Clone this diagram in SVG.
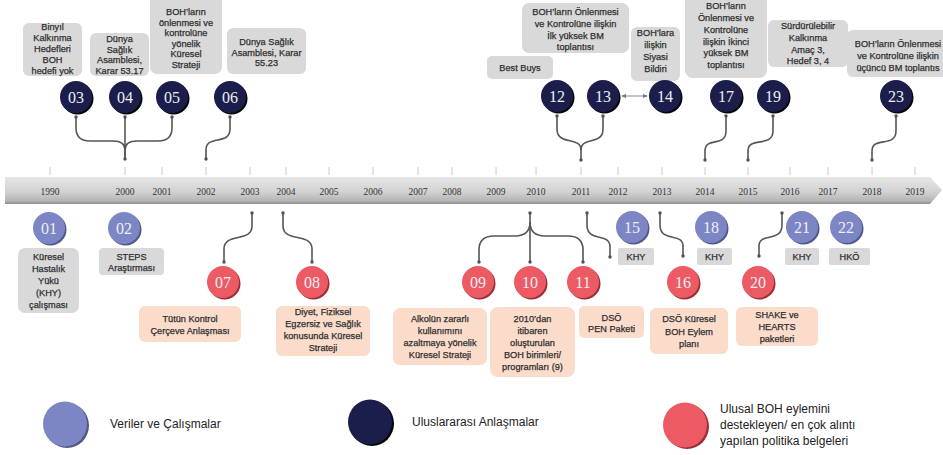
<svg xmlns="http://www.w3.org/2000/svg" width="943" height="455" viewBox="0 0 943 455">
  <defs>
    <linearGradient id="barGrad" x1="0" y1="0" x2="0" y2="1">
      <stop offset="0" stop-color="#e6e6e6"/>
      <stop offset="0.55" stop-color="#d2d2d2"/>
      <stop offset="0.88" stop-color="#b4b4b4"/>
      <stop offset="1" stop-color="#8e8e8e"/>
    </linearGradient>
    <marker id="tip" viewBox="0 0 6 6" refX="5" refY="3" markerWidth="5" markerHeight="5" orient="auto-start-reverse">
      <path d="M0,0.5 L6,3 L0,5.5 Z" fill="#777"/>
    </marker>
    <style>
      .bg { fill:#d9d9d9; }
      .bp { fill:#fbdccb; }
      .t { font-family:"Liberation Sans", Arial, sans-serif; font-size:9.2px; fill:#2e2e2e; stroke:#2e2e2e; stroke-width:0.25; text-anchor:middle; }
      .num { font-family:"Liberation Serif", "Times New Roman", serif; font-size:16px; fill:#eeeef4; text-anchor:middle; }
      .yr { font-family:"Liberation Serif", "Times New Roman", serif; font-size:9.5px; fill:#333; text-anchor:middle; }
      .lg { font-family:"Liberation Sans", Arial, sans-serif; font-size:12px; fill:#222; }
      .navy { fill:#1b1e4b; }
      .navy-sh { fill:#050505; }
      .blue { fill:#7c86c5; }
      .blue-sh { fill:#525885; }
      .red { fill:#ec5a64; }
      .red-sh { fill:#9a2f37; }
      .conn { fill:none; stroke:#565656; stroke-width:1.6; }
      .dot { fill:#505050; }
      .tick { stroke:#cccccc; stroke-width:1; }
      .dbl { stroke:#888; stroke-width:1; marker-start:url(#tip); marker-end:url(#tip); }
    </style>
  </defs>

  <rect width="943" height="455" fill="#ffffff"/>

  <!-- timeline bar with year ticks -->
  <g id="timeline">
    <g>
      <line class="tick" x1="50" y1="167" x2="50" y2="175"/>
      <line class="tick" x1="125" y1="167" x2="125" y2="175"/>
      <line class="tick" x1="162" y1="167" x2="162" y2="175"/>
      <line class="tick" x1="206" y1="167" x2="206" y2="175"/>
      <line class="tick" x1="250" y1="167" x2="250" y2="175"/>
      <line class="tick" x1="286" y1="167" x2="286" y2="175"/>
      <line class="tick" x1="329" y1="167" x2="329" y2="175"/>
      <line class="tick" x1="373" y1="167" x2="373" y2="175"/>
      <line class="tick" x1="418" y1="167" x2="418" y2="175"/>
      <line class="tick" x1="452" y1="167" x2="452" y2="175"/>
      <line class="tick" x1="496" y1="167" x2="496" y2="175"/>
      <line class="tick" x1="536" y1="167" x2="536" y2="175"/>
      <line class="tick" x1="581" y1="167" x2="581" y2="175"/>
      <line class="tick" x1="618" y1="167" x2="618" y2="175"/>
      <line class="tick" x1="662" y1="167" x2="662" y2="175"/>
      <line class="tick" x1="705" y1="167" x2="705" y2="175"/>
      <line class="tick" x1="748" y1="167" x2="748" y2="175"/>
      <line class="tick" x1="790" y1="167" x2="790" y2="175"/>
      <line class="tick" x1="828" y1="167" x2="828" y2="175"/>
      <line class="tick" x1="872" y1="167" x2="872" y2="175"/>
      <line class="tick" x1="915" y1="167" x2="915" y2="175"/>
    </g>
    <path d="M5,177 H930 L942,190 L930,204 H5 Z" fill="url(#barGrad)"/>
    <g>
      <text class="yr" x="50" y="195">1990</text>
      <text class="yr" x="125" y="195">2000</text>
      <text class="yr" x="162" y="195">2001</text>
      <text class="yr" x="206" y="195">2002</text>
      <text class="yr" x="250" y="195">2003</text>
      <text class="yr" x="286" y="195">2004</text>
      <text class="yr" x="329" y="195">2005</text>
      <text class="yr" x="373" y="195">2006</text>
      <text class="yr" x="418" y="195">2007</text>
      <text class="yr" x="452" y="195">2008</text>
      <text class="yr" x="496" y="195">2009</text>
      <text class="yr" x="536" y="195">2010</text>
      <text class="yr" x="581" y="195">2011</text>
      <text class="yr" x="618" y="195">2012</text>
      <text class="yr" x="662" y="195">2013</text>
      <text class="yr" x="705" y="195">2014</text>
      <text class="yr" x="748" y="195">2015</text>
      <text class="yr" x="790" y="195">2016</text>
      <text class="yr" x="828" y="195">2017</text>
      <text class="yr" x="872" y="195">2018</text>
      <text class="yr" x="915" y="195">2019</text>
    </g>
  </g>

  <!-- connectors between milestones and the timeline -->
  <g id="connectors">
    <!-- above the bar -->
    <path class="conn" d="M76,117 V128 Q76,141 90,141 H113 Q125,141 125,150 V159"/>
    <path class="conn" d="M172,117 V128 Q172,141 158,141 H137 Q125,141 125,150"/>
    <path class="conn" d="M125,117 V159"/>
    <path class="conn" d="M230,117 V129 C230,146 206,134 206,150 V159"/>
    <path class="conn" d="M557,116 V129 C557,146 581,136 581,150 V160"/>
    <path class="conn" d="M603,116 V129 C603,146 581,136 581,150"/>
    <path class="conn" d="M726,116 V131 C726,148 705,136 705,151 V160"/>
    <path class="conn" d="M773,116 V131 C773,148 748,136 748,151 V160"/>
    <path class="conn" d="M896,116 V131 C896,148 872,136 872,151 V160"/>
    <line class="dbl" x1="622" y1="96" x2="647" y2="96"/>
    <!-- below the bar -->
    <path class="conn" d="M252,213 V226 C252,243 224,232 224,249 V262"/>
    <path class="conn" d="M283,213 V226 C283,243 312,232 312,249 V262"/>
    <path class="conn" d="M530,213 V262"/>
    <path class="conn" d="M530,222 Q530,236 515,236 H494 Q479,236 479,250 V262"/>
    <path class="conn" d="M530,222 Q530,236 545,236 H568 Q583,236 583,250 V262"/>
    <path class="conn" d="M587,213 V225 C587,243 610,232 610,247 V257"/>
    <path class="conn" d="M660,213 V225 C660,243 683,232 683,246 V256"/>
    <path class="conn" d="M782,213 V225 C782,243 759,232 759,246 V256"/>
    <!-- end dots -->
    <g class="dot">
      <circle cx="76" cy="117" r="1.7"/><circle cx="125" cy="117" r="1.7"/><circle cx="172" cy="117" r="1.7"/>
      <circle cx="125" cy="159" r="1.7"/><circle cx="230" cy="117" r="1.7"/><circle cx="206" cy="159" r="1.7"/>
      <circle cx="557" cy="116" r="1.7"/><circle cx="603" cy="116" r="1.7"/><circle cx="581" cy="160" r="1.7"/>
      <circle cx="726" cy="116" r="1.7"/><circle cx="705" cy="160" r="1.7"/>
      <circle cx="773" cy="116" r="1.7"/><circle cx="748" cy="160" r="1.7"/>
      <circle cx="896" cy="116" r="1.7"/><circle cx="872" cy="160" r="1.7"/>
      <circle cx="252" cy="213" r="1.7"/><circle cx="224" cy="262" r="1.7"/>
      <circle cx="283" cy="213" r="1.7"/><circle cx="312" cy="262" r="1.7"/>
      <circle cx="530" cy="213" r="1.7"/><circle cx="479" cy="262" r="1.7"/><circle cx="530" cy="262" r="1.7"/><circle cx="583" cy="262" r="1.7"/>
      <circle cx="587" cy="213" r="1.7"/><circle cx="610" cy="257" r="1.7"/>
      <circle cx="660" cy="213" r="1.7"/><circle cx="683" cy="256" r="1.7"/>
      <circle cx="782" cy="213" r="1.7"/><circle cx="759" cy="256" r="1.7"/>
    </g>
  </g>

  <!-- milestones above the bar -->
  <g id="n03">
    <rect class="bg" x="23" y="23" width="59" height="53" rx="6"/>
    <text class="t"><tspan x="52.5" y="30">Binyıl</tspan><tspan x="52.5" y="41">Kalkınma</tspan><tspan x="52.5" y="52">Hedefleri</tspan><tspan x="52.5" y="63">BOH</tspan><tspan x="52.5" y="74">hedefi yok</tspan></text>
    <circle class="navy-sh" cx="77.5" cy="98.5" r="16"/>
    <circle class="navy" cx="76" cy="97" r="16"/>
    <text class="num" x="76" y="102.5">03</text>
  </g>
  <g id="n04">
    <rect class="bg" x="90" y="33" width="59" height="43" rx="6"/>
    <text class="t"><tspan x="119.5" y="42">Dünya</tspan><tspan x="119.5" y="52.5">Sağlık</tspan><tspan x="119.5" y="63">Asamblesi,</tspan><tspan x="119.5" y="73.5">Karar 53.17</tspan></text>
    <circle class="navy-sh" cx="126.5" cy="98.5" r="16"/>
    <circle class="navy" cx="125" cy="97" r="16"/>
    <text class="num" x="125" y="102.5">04</text>
  </g>
  <g id="n05">
    <rect class="bg" x="150" y="-6" width="72" height="80" rx="7"/>
    <text class="t"><tspan x="186" y="15">BOH’ların</tspan><tspan x="186" y="25.6">önlenmesi ve</tspan><tspan x="186" y="36.2">kontrolüne</tspan><tspan x="186" y="46.8">yönelik</tspan><tspan x="186" y="57.4">Küresel</tspan><tspan x="186" y="68">Strateji</tspan></text>
    <circle class="navy-sh" cx="173.5" cy="98.5" r="16"/>
    <circle class="navy" cx="172" cy="97" r="16"/>
    <text class="num" x="172" y="102.5">05</text>
  </g>
  <g id="n06">
    <rect class="bg" x="227" y="28" width="79" height="46" rx="6"/>
    <text class="t"><tspan x="266.5" y="45">Dünya Sağlık</tspan><tspan x="266.5" y="55.5">Asamblesi, Karar</tspan><tspan x="266.5" y="66">55.23</tspan></text>
    <circle class="navy-sh" cx="231.5" cy="98.5" r="16"/>
    <circle class="navy" cx="230" cy="97" r="16"/>
    <text class="num" x="230" y="102.5">06</text>
  </g>
  <g id="n12">
    <rect class="bg" x="487" y="56" width="66" height="23" rx="5"/>
    <text class="t" x="520" y="71">Best Buys</text>
    <circle class="navy-sh" cx="558.5" cy="97.5" r="16"/>
    <circle class="navy" cx="557" cy="96" r="16"/>
    <text class="num" x="557" y="101.5">12</text>
  </g>
  <g id="n13">
    <rect class="bg" x="522" y="3" width="107" height="50" rx="7"/>
    <text class="t"><tspan x="575.5" y="15">BOH’ların Önlenmesi</tspan><tspan x="575.5" y="27">ve Kontrolüne ilişkin</tspan><tspan x="575.5" y="39">İlk yüksek BM</tspan><tspan x="575.5" y="50">toplantısı</tspan></text>
    <circle class="navy-sh" cx="604.5" cy="97.5" r="16"/>
    <circle class="navy" cx="603" cy="96" r="16"/>
    <text class="num" x="603" y="101.5">13</text>
  </g>
  <g id="n14">
    <rect class="bg" x="631" y="27" width="49" height="54" rx="6"/>
    <text class="t"><tspan x="655.5" y="36">BOH’lara</tspan><tspan x="655.5" y="48">ilişkin</tspan><tspan x="655.5" y="60">Siyasi</tspan><tspan x="655.5" y="71.5">Bildiri</tspan></text>
    <circle class="navy-sh" cx="666.5" cy="97.5" r="16"/>
    <circle class="navy" cx="665" cy="96" r="16"/>
    <text class="num" x="665" y="101.5">14</text>
  </g>
  <g id="n17">
    <rect class="bg" x="685" y="-6" width="82" height="84" rx="8"/>
    <text class="t"><tspan x="726" y="9">BOH’ların</tspan><tspan x="726" y="20.5">Önlenmesi ve</tspan><tspan x="726" y="32.5">Kontrolüne</tspan><tspan x="726" y="44.5">ilişkin İkinci</tspan><tspan x="726" y="56">yüksek BM</tspan><tspan x="726" y="67.5">toplantısı</tspan></text>
    <circle class="navy-sh" cx="727.5" cy="97.5" r="16"/>
    <circle class="navy" cx="726" cy="96" r="16"/>
    <text class="num" x="726" y="101.5">17</text>
  </g>
  <g id="n19">
    <rect class="bg" x="768" y="20" width="80" height="47" rx="6"/>
    <text class="t"><tspan x="808" y="28.5">Sürdürülebilir</tspan><tspan x="808" y="40.5">Kalkınma</tspan><tspan x="808" y="52.5">Amaç 3,</tspan><tspan x="808" y="64">Hedef 3, 4</tspan></text>
    <circle class="navy-sh" cx="774.5" cy="97.5" r="16"/>
    <circle class="navy" cx="773" cy="96" r="16"/>
    <text class="num" x="773" y="101.5">19</text>
  </g>
  <g id="n23">
    <rect class="bg" x="847" y="30" width="104" height="47" rx="6"/>
    <text class="t"><tspan x="898" y="47">BOH’ların Önlenmesi</tspan><tspan x="898" y="59">ve Kontrolüne ilişkin</tspan><tspan x="898" y="71">üçüncü BM toplantıs</tspan></text>
    <circle class="navy-sh" cx="897.5" cy="97.5" r="16"/>
    <circle class="navy" cx="896" cy="96" r="16"/>
    <text class="num" x="896" y="101.5">23</text>
  </g>

  <!-- milestones below the bar -->
  <g id="n01">
    <circle class="blue-sh" cx="50.5" cy="229.5" r="16"/>
    <circle class="blue" cx="49" cy="228" r="16"/>
    <text class="num" x="49" y="233.5">01</text>
    <rect class="bg" x="18" y="248" width="61" height="65" rx="7"/>
    <text class="t"><tspan x="48.5" y="260">Küresel</tspan><tspan x="48.5" y="272">Hastalık</tspan><tspan x="48.5" y="284">Yükü</tspan><tspan x="48.5" y="296">(KHY)</tspan><tspan x="48.5" y="308">çalışması</tspan></text>
  </g>
  <g id="n02">
    <circle class="blue-sh" cx="125.5" cy="229.5" r="16"/>
    <circle class="blue" cx="124" cy="228" r="16"/>
    <text class="num" x="124" y="233.5">02</text>
    <rect class="bg" x="99" y="248" width="65" height="27" rx="4"/>
    <text class="t"><tspan x="131.5" y="259.5">STEPS</tspan><tspan x="131.5" y="271">Araştırması</tspan></text>
  </g>
  <g id="n07">
    <circle class="red-sh" cx="224.5" cy="283.5" r="16"/>
    <circle class="red" cx="223" cy="282" r="16"/>
    <text class="num" x="223" y="287.5">07</text>
    <rect class="bp" x="139" y="306" width="102" height="36" rx="6"/>
    <text class="t"><tspan x="190" y="322">Tütün Kontrol</tspan><tspan x="190" y="333.5">Çerçeve Anlaşması</tspan></text>
  </g>
  <g id="n08">
    <circle class="red-sh" cx="313.5" cy="283.5" r="16"/>
    <circle class="red" cx="312" cy="282" r="16"/>
    <text class="num" x="312" y="287.5">08</text>
    <rect class="bp" x="276" y="306" width="94" height="50" rx="6"/>
    <text class="t"><tspan x="323" y="315">Diyet, Fiziksel</tspan><tspan x="323" y="327">Egzersiz ve Sağlık</tspan><tspan x="323" y="339">konusunda Küresel</tspan><tspan x="323" y="350.5">Strateji</tspan></text>
  </g>
  <g id="n09">
    <circle class="red-sh" cx="479.5" cy="283.5" r="16"/>
    <circle class="red" cx="478" cy="282" r="16"/>
    <text class="num" x="478" y="287.5">09</text>
    <rect class="bp" x="393" y="308" width="94" height="57" rx="7"/>
    <text class="t"><tspan x="440" y="322">Alkolün zararlı</tspan><tspan x="440" y="334">kullanımını</tspan><tspan x="440" y="346">azaltmaya yönelik</tspan><tspan x="440" y="358">Küresel Strateji</tspan></text>
  </g>
  <g id="n10">
    <circle class="red-sh" cx="531.5" cy="283.5" r="16"/>
    <circle class="red" cx="530" cy="282" r="16"/>
    <text class="num" x="530" y="287.5">10</text>
    <rect class="bp" x="490" y="307" width="85" height="70" rx="8"/>
    <text class="t"><tspan x="532.5" y="322">2010’dan</tspan><tspan x="532.5" y="334">itibaren</tspan><tspan x="532.5" y="346">oluşturulan</tspan><tspan x="532.5" y="358">BOH birimleri/</tspan><tspan x="532.5" y="369.5">programları (9)</tspan></text>
  </g>
  <g id="n11">
    <circle class="red-sh" cx="584.5" cy="283.5" r="16"/>
    <circle class="red" cx="583" cy="282" r="16"/>
    <text class="num" x="583" y="287.5">11</text>
    <rect class="bp" x="579" y="306" width="65" height="32" rx="5"/>
    <text class="t"><tspan x="611.5" y="320.5">DSÖ</tspan><tspan x="611.5" y="331.5">PEN Paketi</tspan></text>
  </g>
  <g id="n15">
    <circle class="blue-sh" cx="633.5" cy="228.5" r="16"/>
    <circle class="blue" cx="632" cy="227" r="16"/>
    <text class="num" x="632" y="232.5">15</text>
    <rect class="bg" x="618" y="248" width="36" height="17" rx="2"/>
    <text class="t" x="636" y="260">KHY</text>
  </g>
  <g id="n16">
    <circle class="red-sh" cx="684.5" cy="283.5" r="16"/>
    <circle class="red" cx="683" cy="282" r="16"/>
    <text class="num" x="683" y="287.5">16</text>
    <rect class="bp" x="650" y="308" width="78" height="46" rx="6"/>
    <text class="t"><tspan x="689" y="322">DSÖ Küresel</tspan><tspan x="689" y="335">BOH Eylem</tspan><tspan x="689" y="347">planı</tspan></text>
  </g>
  <g id="n18">
    <circle class="blue-sh" cx="712.5" cy="228.5" r="16"/>
    <circle class="blue" cx="711" cy="227" r="16"/>
    <text class="num" x="711" y="232.5">18</text>
    <rect class="bg" x="697" y="248" width="35" height="17" rx="2"/>
    <text class="t" x="714.5" y="260">KHY</text>
  </g>
  <g id="n20">
    <circle class="red-sh" cx="759.5" cy="283.5" r="16"/>
    <circle class="red" cx="758" cy="282" r="16"/>
    <text class="num" x="758" y="287.5">20</text>
    <rect class="bp" x="736" y="307" width="82" height="39" rx="6"/>
    <text class="t"><tspan x="777" y="318">SHAKE ve</tspan><tspan x="777" y="330">HEARTS</tspan><tspan x="777" y="341.5">paketleri</tspan></text>
  </g>
  <g id="n21">
    <circle class="blue-sh" cx="803.5" cy="228.5" r="16"/>
    <circle class="blue" cx="802" cy="227" r="16"/>
    <text class="num" x="802" y="232.5">21</text>
    <rect class="bg" x="785" y="248" width="34" height="17" rx="2"/>
    <text class="t" x="802" y="260">KHY</text>
  </g>
  <g id="n22">
    <circle class="blue-sh" cx="847.5" cy="228.5" r="16"/>
    <circle class="blue" cx="846" cy="227" r="16"/>
    <text class="num" x="846" y="232.5">22</text>
    <rect class="bg" x="829" y="248" width="41" height="17" rx="2"/>
    <text class="t" x="849.5" y="260">HKÖ</text>
  </g>

  <!-- legend -->
  <g id="legend">
    <ellipse class="blue-sh" cx="67" cy="425.5" rx="22" ry="22.5"/>
    <ellipse class="blue" cx="65" cy="424" rx="22" ry="22.5"/>
    <text class="lg" x="110" y="428">Veriler ve Çalışmalar</text>
    <ellipse class="navy-sh" cx="372" cy="423.5" rx="22" ry="22.5"/>
    <ellipse class="navy" cx="370" cy="422" rx="22" ry="22.5"/>
    <text class="lg" x="412" y="426">Uluslararası Anlaşmalar</text>
    <ellipse class="red-sh" cx="687" cy="426.5" rx="22" ry="22.5"/>
    <ellipse class="red" cx="685" cy="425" rx="22" ry="22.5"/>
    <text class="lg"><tspan x="720" y="413">Ulusal BOH eylemini</tspan><tspan x="720" y="429">destekleyen/ en çok alıntı</tspan><tspan x="720" y="445">yapılan politika belgeleri</tspan></text>
  </g>
</svg>
